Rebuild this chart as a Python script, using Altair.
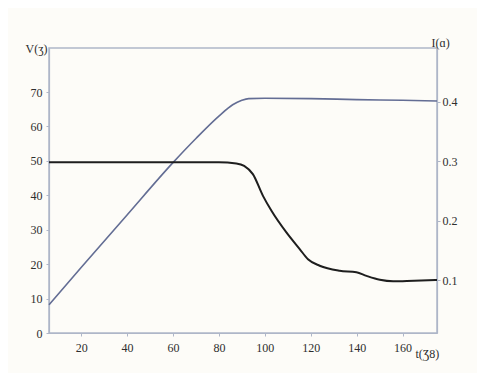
import altair as alt
import pandas as pd

# Voltage curve (left axis)
v_t = [6, 20, 40, 60, 70, 80, 86, 90, 93, 100, 120, 140, 160, 175]
v_val = [8.2, 19.0, 34.3, 49.5, 56.5, 63.0, 66.3, 67.6, 68.1, 68.2, 68.1, 67.8, 67.6, 67.4]

# Current curve (right axis)
i_t = [6, 30, 60, 80, 87.6, 91, 94.8, 99.2, 102.9, 109.4, 115.2, 118.8, 123.9,
       132.6, 139.9, 144.3, 150.1, 155.9, 165, 175]
i_val = [0.298, 0.298, 0.298, 0.298, 0.296, 0.292, 0.278, 0.2415, 0.2164, 0.180,
         0.152, 0.135, 0.124, 0.1156, 0.113, 0.107, 0.1005, 0.098, 0.099, 0.100]

x_ticks = [20, 40, 60, 80, 100, 120, 140, 160]
v_ticks = [0, 10, 20, 30, 40, 50, 60, 70]
i_ticks = [0.1, 0.2, 0.3, 0.4]

dv = pd.DataFrame({"t": v_t, "V": v_val})
di = pd.DataFrame({"t": i_t, "I": i_val})

AX = "#aeb6c8"
LBL = "#2e2e2e"
FONT = "Liberation Serif"

x_enc = alt.X("t:Q", scale=alt.Scale(domain=[6, 175], nice=False, zero=False),
              axis=alt.Axis(values=x_ticks, title="t(Ʒ8)", titleAngle=0,
                            titleX=366, titleY=20, titleAlign="left",
                            titleBaseline="middle", titleFont=FONT,
                            titleFontSize=12, titleFontWeight="normal",
                            titleColor=LBL, labelPadding=6))

v_line = alt.Chart(dv).mark_line(color="#636d94", strokeWidth=1.6,
                                 interpolate="monotone").encode(
    x=x_enc,
    y=alt.Y("V:Q", scale=alt.Scale(domain=[0, 82.8], nice=False, zero=False),
            axis=alt.Axis(values=v_ticks, orient="left", title="V(ʒ)", titleAngle=0,
                          titleX=-2, titleY=0, titleAlign="right",
                          titleBaseline="middle", titleFont=FONT, titleFontSize=12,
                          titleFontWeight="normal", titleColor=LBL, labelPadding=4)),
)

i_line = alt.Chart(di).mark_line(color="#1e1e1e", strokeWidth=2,
                                 interpolate="monotone").encode(
    x=alt.X("t:Q", scale=alt.Scale(domain=[6, 175], nice=False, zero=False)),
    y=alt.Y("I:Q", scale=alt.Scale(domain=[0.011, 0.49], nice=False, zero=False),
            axis=alt.Axis(values=i_ticks, orient="right", format=".1f", title="I(ɑ)",
                          titleAngle=0, titleX=-6, titleY=-6, titleAlign="left",
                          titleBaseline="middle", titleFont=FONT, titleFontSize=12,
                          titleFontWeight="normal", titleColor=LBL, labelPadding=2)),
)

chart = alt.layer(v_line, i_line).resolve_scale(y="independent").properties(
    width=388, height=285,
    autosize=alt.AutoSizeParams(type="none"),
    padding={"left": 41, "top": 40, "right": 40, "bottom": 40},
    background="#fdfcf8",
).configure_axis(
    grid=False, domainColor=AX, tickColor=AX, tickSize=3, domainWidth=1.2,
    labelFont=FONT, labelFontSize=12, labelColor=LBL,
).configure_view(stroke=AX, strokeWidth=1.5)

chart.save("out.html", embed_options={"renderer": "svg", "actions": False})
